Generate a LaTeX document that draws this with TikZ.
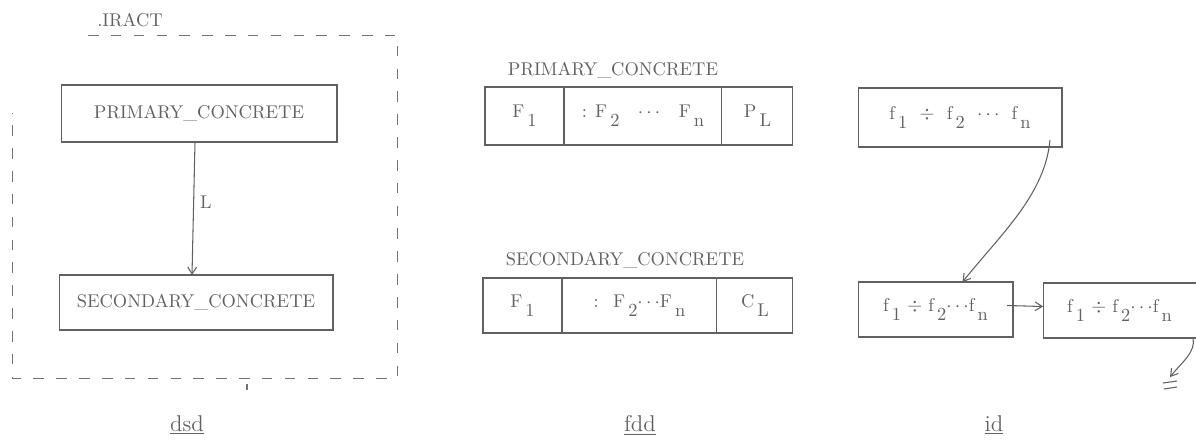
\documentclass[tikz,border=0pt]{standalone}
\usepackage{tikz}
\usetikzlibrary{positioning,calc,arrows.meta}
\colorlet{inkGray}{black!62}
\colorlet{frameGray}{black!55}
\newcommand{\lowr}[1]{\,\raisebox{-1.1ex}{#1}}

\tikzset{
  box/.style={draw=inkGray, line width=0.6pt, inner sep=0pt, outer sep=0pt, text=inkGray, font=\fontsize{10.5}{12}\selectfont},
  openbox/.style={inner sep=0pt, outer sep=0pt, text=inkGray, font=\fontsize{10.5}{12}\selectfont},
  frame/.style={draw=frameGray, line width=0.55pt, dash pattern=on 6pt off 7pt},
  link/.style={draw=inkGray, line width=0.6pt, -{Straight Barb[length=4pt,width=5pt]}},
  caption/.style={text=inkGray, font=\fontsize{10.5}{12}\selectfont},
  tag/.style={text=inkGray, font=\fontsize{13}{15}\selectfont},
}

\begin{document}
\begin{tikzpicture}[x=0.02cm, y=-0.02cm]
  \useasboundingbox (0,0) rectangle (1196,440);

  % dsd
  \node[caption] (abs) at (130,20) {.IRACT};
  \draw[frame] (88,35) -- (397,35) -- (397,378) -- (12,378) -- (12,113);
  \draw[draw=frameGray, line width=0.6pt] (247,384) -- (247,390);
  \node[box, minimum width=5.52cm, minimum height=1.14cm] (prim) at (199,113.5) {PRIMARY\_CONCRETE};
  \node[box, minimum width=5.48cm, minimum height=1.1cm] (sec) at (196,302.5) {SECONDARY\_CONCRETE};
  \draw[link] ($(prim.south)+(-4,0)$) -- node[caption, right, pos=0.45] {L} ($(sec.north)+(-4,0)$);
  \node[tag] (dsd) at (187,425) {\underline{dsd}};

  % fdd
  \node[caption] (ptitle) at (613,70) {PRIMARY\_CONCRETE};
  \node[box, minimum width=1.58cm, minimum height=1.16cm] (pf1) at (524.5,116) {F\lowr{1}};
  \node[box, minimum width=3.16cm, minimum height=1.16cm, right=0pt of pf1] (pfn) {: F\lowr{2} \ \ $\cdots$ \ \ F\lowr{n}};
  \node[box, minimum width=1.42cm, minimum height=1.16cm, right=0pt of pfn] (pl) {P\lowr{L}};

  \node[caption] (stitle) at (625,260) {SECONDARY\_CONCRETE};
  \node[box, minimum width=1.58cm, minimum height=1.1cm] (sf1) at (522.5,305.5) {F\lowr{1}};
  \node[box, minimum width=3.1cm, minimum height=1.1cm, right=0pt of sf1] (sfn) {: \ F\lowr{2}$\cdots$F\lowr{n}};
  \node[box, minimum width=1.52cm, minimum height=1.1cm, right=0pt of sfn] (cl) {C\lowr{L}};
  \node[tag] (fdd) at (640,425) {\underline{fdd}};

  % id
  \node[box, minimum width=4.08cm, minimum height=1.18cm] (top) at (960,117.5) {f\lowr{1} \ $\div$ \ f\lowr{2} \ $\cdots$ \ f\lowr{n}};
  \node[box, minimum width=3.1cm, minimum height=1.1cm] (bl) at (935.5,309.5) {f\lowr{1} $\div$ f\lowr{2}$\cdots$f\lowr{n}};
  \node[openbox, minimum width=3.06cm, minimum height=1.1cm] (br) at (1119.5,310.5) {f\lowr{1} $\div$ f\lowr{2}$\cdots$f\lowr{n}};
  \draw[draw=inkGray, line width=0.6pt] (br.north east) -- (br.north west) -- (br.south west) -- (br.south east);
  \coordinate (nil) at (1170,377);

  \draw[link] ($(top.south east)+(-12,-7)$) .. controls (1045,195) and (1000,235) .. ($(bl.north)+(27,0)$);
  \draw[link] ($(bl.east)+(-6,-4)$) -- ($(br.west)+(0,-4)$);
  \draw[link] ($(br.south east)+(-3,0)$) .. controls (1196,352) and (1182,362) .. (nil);
  \draw[draw=inkGray, line width=0.6pt] ($(nil)+(-7,6)$) -- +(14,-2);
  \draw[draw=inkGray, line width=0.6pt] ($(nil)+(-6,12)$) -- +(13,-2);
  \node[tag] (id) at (994,425) {\underline{id}};
\end{tikzpicture}
\end{document}
